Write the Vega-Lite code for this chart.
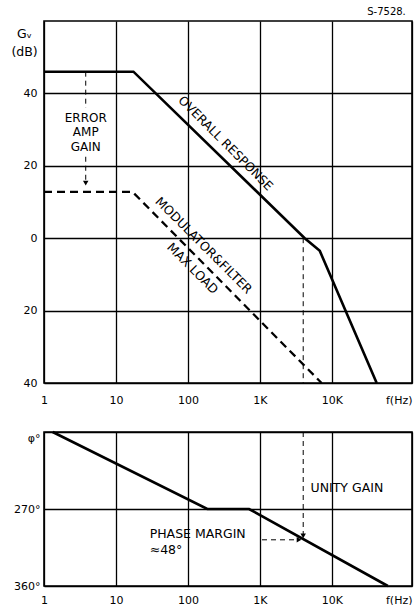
{
  "$schema": "https://vega.github.io/schema/vega-lite/v6.json",
  "background": "white",
  "padding": {"left": 10, "top": 7, "right": 5, "bottom": 0},
  "title": {"text": "S-7528.", "anchor": "end", "fontSize": 10, "fontWeight": "normal", "font": "DejaVu Sans", "color": "black", "offset": 3, "dx": -7},
  "config": {
    "font": "DejaVu Sans",
    "view": {"stroke": "black", "strokeWidth": 1.6},
    "axis": {"domain": false, "ticks": false, "grid": true, "gridColor": "black", "gridOpacity": 1, "gridWidth": 1.3, "labelColor": "black", "labelFontSize": 11, "labelFont": "DejaVu Sans", "titleColor": "black", "titleFont": "DejaVu Sans", "titleFontWeight": "normal"},
    "text": {"font": "DejaVu Sans", "color": "black"}
  },
  "datasets": {
    "overall": [
      {"f": 1, "db": 46}, {"f": 17.5, "db": 46}, {"f": 4200, "db": 0}, {"f": 6800, "db": -3.5}, {"f": 42000, "db": -40}
    ],
    "maxLoad": [
      {"f": 1, "db": 12.8}, {"f": 17, "db": 12.8}, {"f": 7200, "db": -40}
    ],
    "gainGuides": [
      {"f": 3.8, "from": 46, "to": 36},
      {"f": 3.8, "from": 22.5, "to": 16},
      {"f": 4000, "from": 0, "to": -40}
    ],
    "gainArrows": [{"f": 3.8, "db": 15.2}],
    "gainLabels": [
      {"f": 3.8, "db": 33.2, "label": "ERROR"},
      {"f": 3.8, "db": 29.2, "label": "AMP"},
      {"f": 3.8, "db": 25.2, "label": "GAIN"}
    ],
    "overallLabel": [{"f": 334, "db": 26.2, "label": "OVERALL RESPONSE"}],
    "maxLoadLabels": [
      {"f": 165, "db": -2, "label": "MODULATOR&FILTER"},
      {"f": 116, "db": -8.4, "label": "MAX LOAD"}
    ],
    "phase": [
      {"f": 1.32, "deg": 180}, {"f": 186, "deg": 270}, {"f": 708, "deg": 270}, {"f": 60000, "deg": 360}
    ],
    "phaseVGuide": [{"f": 4000, "from": 180, "to": 300}],
    "phaseHGuide": [{"from": 1070, "to": 3300, "deg": 306}],
    "downArrow": [{"f": 4000, "deg": 301.5}],
    "rightArrow": [{"f": 3500, "deg": 306}],
    "phaseLabels": [
      {"f": 5060, "deg": 245.6, "label": "UNITY GAIN"},
      {"f": 29.4, "deg": 299.5, "label": "PHASE MARGIN"},
      {"f": 29.4, "deg": 317.5, "label": "≈48°"}
    ]
  },
  "bounds": "flush",
  "spacing": 49,
  "vconcat": [
    {
      "width": 368,
      "height": 362,
      "encoding": {
        "x": {"field": "f", "type": "quantitative", "scale": {"type": "log", "domain": [1, 130000], "nice": false},
          "axis": {"values": [1, 10, 100, 1000, 10000, 130000], "labelPadding": 11, "title": null,
            "labelExpr": "datum.value > 100000 ? 'f(Hz)' : datum.value >= 1000 ? (datum.value / 1000) + 'K' : datum.value",
            "labelAlign": {"condition": {"test": "datum.value > 100000", "value": "right"}, "value": "center"}}}
      },
      "layer": [
        {
          "data": {"name": "overall"},
          "mark": {"type": "line", "color": "black", "strokeWidth": 2.6},
          "encoding": {
            "y": {"field": "db", "type": "quantitative", "scale": {"domain": [-40, 60], "nice": false},
              "axis": {"values": [-40, -20, 0, 20, 40], "labelPadding": 7, "labelExpr": "abs(datum.value)",
                "title": ["Gᵥ", "(dB)"], "titleAngle": 0, "titleAlign": "center", "titleBaseline": "top",
                "titleX": -20, "titleY": 6, "titleFontSize": 12.5, "titleLineHeight": 18}}
          }
        },
        {
          "data": {"name": "maxLoad"},
          "mark": {"type": "line", "color": "black", "strokeWidth": 2.3, "strokeDash": [8, 5]},
          "encoding": {"y": {"field": "db", "type": "quantitative"}}
        },
        {
          "data": {"name": "gainGuides"},
          "mark": {"type": "rule", "color": "black", "strokeWidth": 1, "strokeDash": [5, 4]},
          "encoding": {"y": {"field": "from", "type": "quantitative"}, "y2": {"field": "to"}}
        },
        {
          "data": {"name": "gainArrows"},
          "mark": {"type": "point", "shape": "triangle-down", "filled": true, "color": "black", "size": 30, "opacity": 1},
          "encoding": {"y": {"field": "db", "type": "quantitative"}}
        },
        {
          "data": {"name": "gainLabels"},
          "mark": {"type": "text", "fontSize": 12, "align": "center", "baseline": "middle"},
          "encoding": {"y": {"field": "db", "type": "quantitative"}, "text": {"field": "label"}}
        },
        {
          "data": {"name": "overallLabel"},
          "mark": {"type": "text", "fontSize": 12.5, "align": "center", "baseline": "middle", "angle": 45},
          "encoding": {"y": {"field": "db", "type": "quantitative"}, "text": {"field": "label"}}
        },
        {
          "data": {"name": "maxLoadLabels"},
          "mark": {"type": "text", "fontSize": 12.5, "align": "center", "baseline": "middle", "angle": 45},
          "encoding": {"y": {"field": "db", "type": "quantitative"}, "text": {"field": "label"}}
        }
      ]
    },
    {
      "width": 368,
      "height": 154,
      "encoding": {
        "x": {"field": "f", "type": "quantitative", "scale": {"type": "log", "domain": [1, 130000], "nice": false},
          "axis": {"values": [1, 10, 100, 1000, 10000, 130000], "labelPadding": 8, "title": null,
            "labelExpr": "datum.value > 100000 ? 'f(Hz)' : datum.value >= 1000 ? (datum.value / 1000) + 'K' : datum.value",
            "labelAlign": {"condition": {"test": "datum.value > 100000", "value": "right"}, "value": "center"}}}
      },
      "layer": [
        {
          "data": {"name": "phase"},
          "mark": {"type": "line", "color": "black", "strokeWidth": 2.6},
          "encoding": {
            "y": {"field": "deg", "type": "quantitative", "scale": {"domain": [180, 360], "nice": false, "reverse": true},
              "axis": {"values": [180, 270, 360], "labelPadding": 4, "title": null,
                "labelExpr": "datum.value == 180 ? 'φ°' : datum.value + '°'",
                "labelBaseline": {"condition": {"test": "datum.value == 180", "value": "top"}, "value": "middle"}}}
          }
        },
        {
          "data": {"name": "phaseVGuide"},
          "mark": {"type": "rule", "color": "black", "strokeWidth": 1, "strokeDash": [5, 4]},
          "encoding": {"y": {"field": "from", "type": "quantitative"}, "y2": {"field": "to"}}
        },
        {
          "data": {"name": "phaseHGuide"},
          "mark": {"type": "rule", "color": "black", "strokeWidth": 1, "strokeDash": [5, 4]},
          "encoding": {"x": {"field": "from", "type": "quantitative"}, "x2": {"field": "to"}, "y": {"field": "deg", "type": "quantitative"}}
        },
        {
          "data": {"name": "downArrow"},
          "mark": {"type": "point", "shape": "triangle-down", "filled": true, "color": "black", "size": 30, "opacity": 1},
          "encoding": {"y": {"field": "deg", "type": "quantitative"}}
        },
        {
          "data": {"name": "rightArrow"},
          "mark": {"type": "point", "shape": "triangle-right", "filled": true, "color": "black", "size": 30, "opacity": 1},
          "encoding": {"y": {"field": "deg", "type": "quantitative"}}
        },
        {
          "data": {"name": "phaseLabels"},
          "mark": {"type": "text", "fontSize": 12.5, "align": "left", "baseline": "middle"},
          "encoding": {"y": {"field": "deg", "type": "quantitative"}, "text": {"field": "label"}}
        }
      ]
    }
  ]
}
